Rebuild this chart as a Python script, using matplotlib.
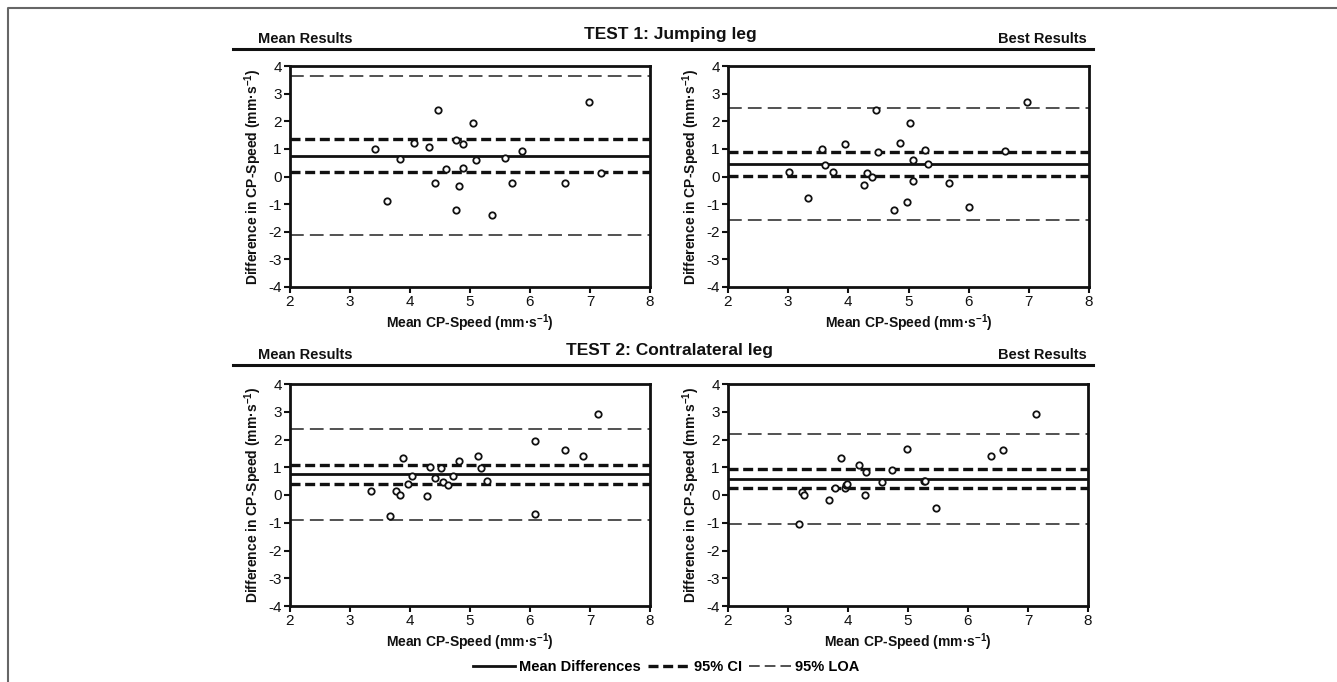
import matplotlib
matplotlib.use("Agg")
import matplotlib.pyplot as plt
from matplotlib.lines import Line2D

plt.rcParams['font.family'] = ['Liberation Sans', 'DejaVu Sans']
plt.rcParams['axes.unicode_minus'] = False
plt.rcParams['mathtext.fontset'] = 'custom'
plt.rcParams['mathtext.rm'] = 'Liberation Sans:bold'
plt.rcParams['mathtext.bf'] = 'Liberation Sans:bold'

# ---------------- data ----------------
# Panel 1: TEST 1 Mean Results
p1_x = [3.42, 3.61, 3.83, 4.07, 4.32, 4.42, 4.47, 4.60, 4.76, 4.77, 4.81,
        4.88, 4.89, 5.05, 5.10, 5.37, 5.58, 5.70, 5.87, 6.58, 6.99, 7.19]
p1_y = [0.99, -0.88, 0.64, 1.23, 1.05, -0.25, 2.41, 0.27, 1.32, -1.21, -0.36,
        1.19, 0.29, 1.95, 0.58, -1.39, 0.67, -0.25, 0.94, -0.25, 2.68, 0.12]
p1_lines = {"mean": 0.75, "ci": (0.15, 1.34), "loa": (-2.11, 3.63)}

# Panel 2: TEST 1 Best Results
p2_x = [3.02, 3.33, 3.57, 3.62, 3.74, 3.94, 4.26, 4.31, 4.39, 4.46, 4.49,
        4.76, 4.86, 4.98, 5.03, 5.08, 5.08, 5.27, 5.33, 5.68, 6.00, 6.60, 6.97]
p2_y = [0.18, -0.79, 0.99, 0.41, 0.18, 1.19, -0.31, 0.12, -0.03, 2.41, 0.90,
        -1.21, 1.22, -0.93, 1.95, 0.59, -0.18, 0.97, 0.47, -0.25, -1.10, 0.92, 2.68]
p2_lines = {"mean": 0.44, "ci": (0.01, 0.90), "loa": (-1.59, 2.49)}

# Panel 3: TEST 2 Mean Results
p3_x = [3.35, 3.67, 3.77, 3.84, 3.88, 3.97, 4.03, 4.28, 4.33, 4.42, 4.51, 4.55,
        4.64, 4.71, 4.81, 5.14, 5.18, 5.28, 6.09, 6.09, 6.59, 6.88, 7.14]
p3_y = [0.15, -0.75, 0.15, 0.00, 1.34, 0.40, 0.68, -0.02, 1.00, 0.63, 0.96, 0.47,
        0.35, 0.68, 1.24, 1.39, 0.96, 0.50, 1.93, -0.67, 1.61, 1.42, 2.93]
p3_lines = {"mean": 0.74, "ci": (0.41, 1.09), "loa": (-0.89, 2.38)}

# Panel 4: TEST 2 Best Results
p4_x = [3.18, 3.24, 3.27, 3.69, 3.79, 3.88, 3.95, 3.97, 3.99, 4.19, 4.30,
        4.29, 4.56, 4.74, 4.99, 5.26, 5.29, 5.46, 6.38, 6.59, 7.14]
p4_y = [-1.03, 0.11, 0.01, -0.17, 0.25, 1.35, 0.25, 0.37, 0.41, 1.07, 0.83,
        -0.01, 0.48, 0.90, 1.64, 0.51, 0.51, -0.47, 1.39, 1.61, 2.93]
p4_lines = {"mean": 0.57, "ci": (0.25, 0.93), "loa": (-1.03, 2.20)}

x_ticks = [2, 3, 4, 5, 6, 7, 8]
y_ticks = [-4, -3, -2, -1, 0, 1, 2, 3, 4]
xlabel = "Mean CP-Speed (mm·s$^{-1}$)"
ylabel = "Difference in CP-Speed (mm·s$^{-1}$)"
headers = [("TEST 1: Jumping leg", "Mean Results", "Best Results"),
           ("TEST 2: Contralateral leg", "Mean Results", "Best Results")]
legend_labels = ["Mean Differences", "95% CI", "95% LOA"]

# ---------------- figure ----------------
W, H = 1337, 682
fig = plt.figure(figsize=(W / 100, H / 100), dpi=100)

def fx(px):
    return px / W

def fy(py):
    return 1 - py / H

def make_ax(l, r, t, b):
    return fig.add_axes([fx(l), fy(b), fx(r) - fx(l), fy(t) - fy(b)])

INK = "#111111"
mean_kw = dict(color=INK, lw=2.0, ls="-")
ci_kw = dict(color=INK, lw=2.4, ls=(0, (3.0, 1.4)))
loa_kw = dict(color="#222222", lw=1.1, ls=(0, (9, 4)))
loa_leg_kw = dict(color="#222222", lw=1.1, ls=(0, (7, 3.3)))

panels = [
    (p1_x, p1_y, p1_lines, (290, 650, 66, 287)),
    (p2_x, p2_y, p2_lines, (728, 1089, 66, 287)),
    (p3_x, p3_y, p3_lines, (290, 650, 384, 606)),
    (p4_x, p4_y, p4_lines, (728, 1088, 384, 606)),
]

for xs, ys, ln, box in panels:
    ax = make_ax(*box)
    ax.set_xlim(2, 8)
    ax.set_ylim(-4, 4)
    ax.axhline(ln["loa"][0], **loa_kw, zorder=2)
    ax.axhline(ln["loa"][1], **loa_kw, zorder=2)
    ax.axhline(ln["ci"][0], **ci_kw, zorder=2)
    ax.axhline(ln["ci"][1], **ci_kw, zorder=2)
    ax.axhline(ln["mean"], **mean_kw, zorder=2)
    ax.plot(xs, ys, ls="none", marker="o", ms=4.6, mfc="white",
            mec=INK, mew=1.3, zorder=3, clip_on=False)
    ax.set_xticks(x_ticks)
    ax.set_yticks(y_ticks)
    ax.tick_params(direction="out", length=4, width=1.5, labelsize=11,
                   colors=INK, pad=2)
    for s in ax.spines.values():
        s.set_linewidth(2.0)
        s.set_color(INK)
    ax.set_xlabel(xlabel, fontsize=10, fontweight="bold", color=INK, labelpad=2)
    ax.set_ylabel(ylabel, fontsize=10, fontweight="bold", color=INK, labelpad=3)

# headers
for (title, left, right), ytxt, yline in zip(headers, (34, 350), (49, 365)):
    fig.text(fx(670), fy(ytxt), title, ha="center", va="center",
             fontsize=12.5, fontweight="bold", color=INK)
    fig.text(fx(258), fy(ytxt + 5), left, ha="left", va="center",
             fontsize=10.5, fontweight="bold", color=INK)
    fig.text(fx(1087), fy(ytxt + 5), right, ha="right", va="center",
             fontsize=10.5, fontweight="bold", color=INK)
    fig.add_artist(Line2D([fx(233), fx(1093)], [fy(yline), fy(yline)],
                          color=INK, lw=2.2, transform=fig.transFigure))

# legend
handles = [Line2D([], [], **mean_kw), Line2D([], [], **ci_kw),
           Line2D([], [], **loa_leg_kw)]
fig.legend(handles, legend_labels, loc="center", ncol=3, frameon=False,
           bbox_to_anchor=(fx(666), fy(667)), prop=dict(weight="bold", size=10.5),
           handlelength=2.9, handletextpad=0.25, columnspacing=0.5)

# outer frame (top and left edges only)
fig.add_artist(Line2D([fx(8), fx(8), fx(W + 5)], [fy(H + 5), fy(8), fy(8)],
                      color="#666666", lw=1.5, transform=fig.transFigure))

fig.savefig("out.png", dpi=100)
